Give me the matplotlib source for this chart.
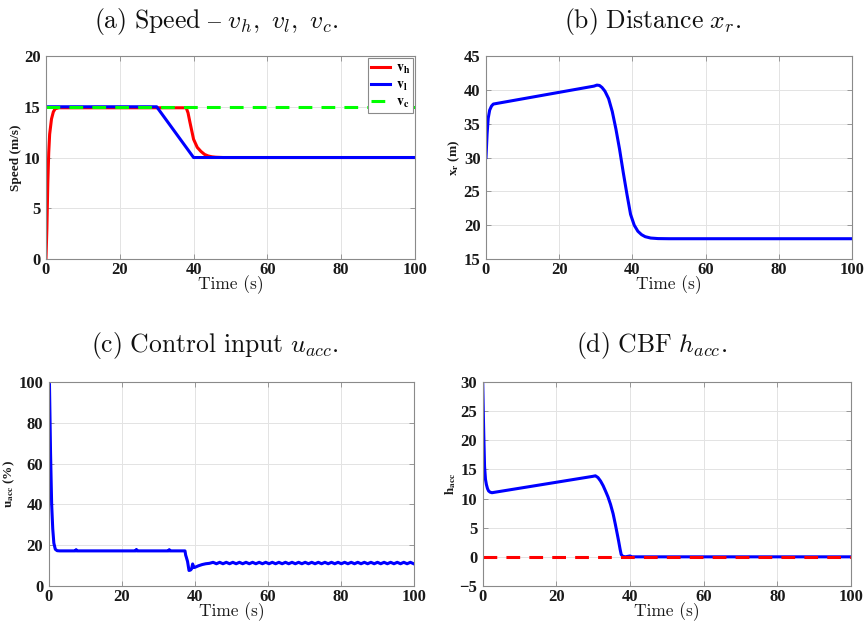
import matplotlib
matplotlib.use('Agg')
import matplotlib.pyplot as plt

# speed of host vehicle, lead vehicle and cruise setpoint
t_vh = [0, 0.25, 0.5, 0.75, 1.0, 1.5, 2.0, 2.5, 3.5, 38.0, 38.5, 39.0, 40.0,
        41.0, 42.0, 43.0, 44.0, 45.0, 46.0, 48.0, 100]
v_h = [0, 3.0, 7.5, 10.5, 12.3, 13.8, 14.5, 14.8, 14.9, 14.9, 14.4, 13.5, 11.8,
       11.0, 10.6, 10.3, 10.15, 10.07, 10.03, 10.0, 10.0]
t_vl = [0, 30, 40, 100]
v_l = [15, 15, 10, 10]
t_vc = [0, 100]
v_c = [15, 15]

# relative distance
t_xr = [0, 0.3, 0.6, 1.0, 1.5, 2.0, 29.5, 30.3, 31.0, 31.7, 32.5, 33.5, 34.5,
        35.5, 36.5, 37.5, 38.5, 39.5, 40.5, 41.5, 42.5, 43.5, 45.0, 47.0, 50.0, 100]
x_r = [30.0, 33.5, 35.8, 37.0, 37.6, 37.9, 40.55, 40.7, 40.65, 40.35, 39.8,
       38.7, 36.8, 34.2, 31.2, 27.8, 24.6, 21.6, 20.0, 19.1, 18.6, 18.3, 18.1,
       18.02, 18.0, 18.0]

# control input
t_u = [0, 0.2, 0.5, 0.8, 1.1, 1.4, 1.8, 2.3, 3.0, 7.3, 7.5, 7.7, 23.8, 24.0,
       24.2, 32.8, 33.0, 33.2, 37.3, 37.5, 37.6, 38.0, 38.4, 38.8, 39.1, 39.4,
       39.7, 40.1, 41.0, 42.0, 43.0, 44.0,
       45.0, 45.9, 46.8, 47.7, 48.6, 49.5, 50.4, 51.3, 52.2, 53.1, 54.0, 54.9,
       55.8, 56.7, 57.6, 58.5, 59.4, 60.3, 61.2, 62.1, 63.0, 63.9, 64.8, 65.7,
       66.6, 67.5, 68.4, 69.3, 70.2, 71.1, 72.0, 72.9, 73.8, 74.7, 75.6, 76.5,
       77.4, 78.3, 79.2, 80.1, 81.0, 81.9, 82.8, 83.7, 84.6, 85.5, 86.4, 87.3,
       88.2, 89.1, 90.0, 90.9, 91.8, 92.7, 93.6, 94.5, 95.4, 96.3, 97.2, 98.1,
       99.0, 99.9]
u_acc = [100, 99, 65, 40, 28, 21, 18, 17.3, 17.2, 17.2, 17.8, 17.2, 17.2, 17.9,
         17.2, 17.2, 17.8, 17.2, 17.2, 15.0, 14.5, 12.0, 7.6, 7.8, 8.4, 10.8,
         9.0, 9.2, 9.9, 10.5, 10.9, 11.1,
         11.6, 10.9, 11.6, 10.9, 11.6, 10.9, 11.6, 10.9, 11.6, 10.9, 11.6, 10.9,
         11.6, 10.9, 11.6, 10.9, 11.6, 10.9, 11.6, 10.9, 11.6, 10.9, 11.6, 10.9,
         11.6, 10.9, 11.6, 10.9, 11.6, 10.9, 11.6, 10.9, 11.6, 10.9, 11.6, 10.9,
         11.6, 10.9, 11.6, 10.9, 11.6, 10.9, 11.6, 10.9, 11.6, 10.9, 11.6, 10.9,
         11.6, 10.9, 11.6, 10.9, 11.6, 10.9, 11.6, 10.9, 11.6, 10.9, 11.6, 10.9,
         11.6, 10.9]

# control barrier function
t_h = [0, 0.15, 0.3, 0.5, 0.75, 1.0, 1.3, 1.6, 2.0, 2.5, 29.8, 30.6, 31.3,
       32.0, 32.7, 33.4, 34.0, 34.7, 35.4, 36.0, 36.5, 36.9, 37.3, 37.6, 38.0,
       38.7, 40.0, 40.5, 41.5, 100]
h_acc = [30, 25, 20.6, 15.5, 13.3, 12.4, 11.7, 11.3, 11.1, 11.0, 13.8, 13.9,
         13.6, 13.0, 12.2, 11.2, 10.3, 9.0, 7.4, 5.6, 4.0, 2.7, 1.3, 0.4, 0.1,
         0.0, 0.15, 0.0, 0.0, 0.0]
t_zero = [0, 100]
h_zero = [0, 0]

tick_font = dict(family='Liberation Serif', weight='bold', size=12)
lw = 2.2
dash = (4.5, 3)


def style_axes(ax, ylim, yticks, ylabel):
    ax.set_xlim(0, 100)
    ax.set_ylim(*ylim)
    ax.set_xticks([0, 20, 40, 60, 80, 100])
    ax.set_yticks(yticks)
    ax.grid(True, color='#e3e3e3', linewidth=0.7)
    ax.set_axisbelow(True)
    for s in ax.spines.values():
        s.set_color('#8a8a8a')
        s.set_linewidth(0.8)
    ax.tick_params(direction='in', length=3.5, width=0.6, color='#8a8a8a',
                   top=True, right=True)
    ax.tick_params(axis='x', pad=2)
    ax.tick_params(axis='y', pad=4)
    for lab in ax.get_xticklabels() + ax.get_yticklabels():
        lab.set_fontproperties(tick_font)
        lab.set_color('#1a1a1a')
    ax.set_xlabel('Time (s)', family='cmr10', size=12.5, labelpad=-2,
                  color='#1a1a1a')
    ax.set_ylabel(ylabel, family='Liberation Serif', weight='bold', size=9.5,
                  labelpad=1, color='#1a1a1a', math_fontfamily='stix')


fig = plt.figure(figsize=(8.64, 6.21), dpi=100)
ax1 = fig.add_axes([0.0532, 0.5829, 0.4271, 0.3269])
ax2 = fig.add_axes([0.5625, 0.5829, 0.4236, 0.3269])
ax3 = fig.add_axes([0.0564, 0.0564, 0.4228, 0.3285])
ax4 = fig.add_axes([0.5587, 0.0564, 0.4263, 0.3285])

# (a) speeds
ax1.plot(t_vh, v_h, color='#ff0000', lw=lw, label=r'$\mathbf{v_h}$')
ax1.plot(t_vl, v_l, color='#0000ff', lw=lw, label=r'$\mathbf{v_l}$')
ax1.plot(t_vc, v_c, color='#00ff00', lw=lw, dashes=dash, label=r'$\mathbf{v_c}$')
style_axes(ax1, (0, 20), [0, 5, 10, 15, 20], 'Speed (m/s)')
leg = ax1.legend(loc='upper right', prop=dict(size=10), handlelength=1.4,
                 handletextpad=0.4, borderpad=0.2, labelspacing=0.15,
                 fancybox=False, framealpha=1, borderaxespad=0.15)
leg.get_frame().set_edgecolor('#8a8a8a')
leg.get_frame().set_linewidth(0.8)
for txt in leg.get_texts():
    txt.set_math_fontfamily('stix')

# (b) distance
ax2.plot(t_xr, x_r, color='#0000ff', lw=lw)
style_axes(ax2, (15, 45), [15, 20, 25, 30, 35, 40, 45], r'$\mathbf{x_r}$ (m)')

# (c) control input
ax3.plot(t_u, u_acc, color='#0000ff', lw=lw)
style_axes(ax3, (0, 100), [0, 20, 40, 60, 80, 100], r'$\mathbf{u_{acc}}$ (%)')

# (d) CBF
ax4.plot(t_h, h_acc, color='#0000ff', lw=lw)
ax4.plot(t_zero, h_zero, color='#ff0000', lw=lw, dashes=dash)
style_axes(ax4, (-5, 30), [-5, 0, 5, 10, 15, 20, 25, 30], r'$\mathbf{h_{acc}}$')

# captions, set fully in mathtext so the dash comes out right
cap = dict(size=18.5, ha='center', va='center', math_fontfamily='cm',
           color='#111111')
fig.text(0.251, 0.966, r'$\mathrm{(a)\ Speed\ –\ }v_h\mathrm{,\ }v_l\mathrm{,\ }v_c\mathrm{.}$', **cap)
fig.text(0.756, 0.966, r'$\mathrm{(b)\ Distance\ }x_r\mathrm{.}$', **cap)
fig.text(0.249, 0.443, r'$\mathrm{(c)\ Control\ input\ }u_{acc}\mathrm{.}$', **cap)
fig.text(0.754, 0.443, r'$\mathrm{(d)\ CBF\ }h_{acc}\mathrm{.}$', **cap)

fig.savefig('out.png', dpi=100)
